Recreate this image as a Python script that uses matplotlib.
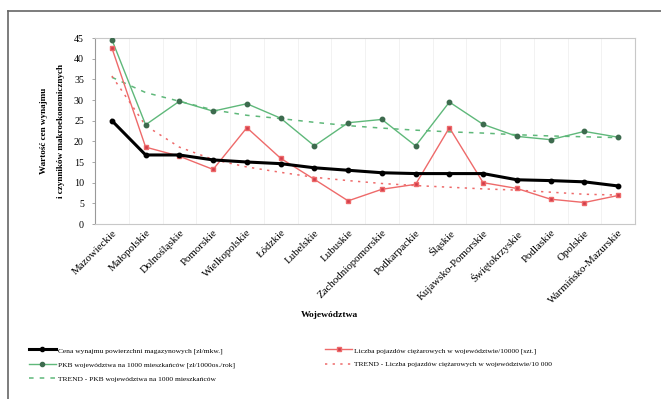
import matplotlib
matplotlib.use("Agg")
import matplotlib.pyplot as plt
from matplotlib.lines import Line2D
import numpy as np

plt.rcParams['font.family'] = ['Liberation Serif', 'DejaVu Serif']

regions = ["Mazowieckie", "Małopolskie", "Dolnośląskie", "Pomorskie", "Wielkopolskie",
           "Łódzkie", "Lubelskie", "Lubuskie", "Zachodniopomorskie", "Podkarpackie",
           "Śląskie", "Kujawsko-Pomorskie", "Świętokrzyskie", "Podlaskie", "Opolskie",
           "Warmińsko-Mazurskie"]

rent_price = [25.0, 16.7, 16.7, 15.5, 15.0, 14.6, 13.6, 13.0, 12.4, 12.2,
              12.2, 12.2, 10.7, 10.5, 10.2, 9.2]
trucks = [42.6, 18.6, 16.4, 13.2, 23.3, 15.9, 10.8, 5.6, 8.4, 9.6,
          23.3, 10.0, 8.6, 6.0, 5.2, 6.9]
gdp = [44.6, 24.0, 29.7, 27.3, 29.1, 25.6, 18.9, 24.5, 25.3, 18.9,
       29.5, 24.1, 21.2, 20.4, 22.4, 21.0]
trucks_trend = [35.8, 23.8, 18.6, 15.6, 13.8, 12.5, 11.3, 10.5, 9.8, 9.3,
                8.9, 8.5, 8.2, 7.7, 7.2, 7.0]
gdp_trend = [35.5, 31.8, 29.7, 27.6, 26.3, 25.5, 24.6, 23.8, 23.2, 22.7,
             22.3, 22.0, 21.6, 21.3, 21.1, 20.9]

legend_labels = [
    "Cena wynajmu powierzchni magazynowych [zł/mkw.]",
    "PKB województwa na 1000 mieszkańców [zł/1000os./rok]",
    "TREND - PKB województwa na 1000 mieszkańców",
    "Liczba pojazdów ciężarowych w województwie/10000 [szt.]",
    "TREND - Liczba pojazdów ciężarowych w województwie/10 000",
]

RED = "#ee6a6a"
GREEN = "#5fb87a"
GREEN_MK = "#3d6b4e"

fig = plt.figure(figsize=(6.61, 3.99), dpi=100)
ax = fig.add_axes([95/661, 1-224/399, 540/661, 186/399])

x = np.arange(len(regions))

ax.plot(x, gdp_trend, color=GREEN, lw=1.1, ls=(0, (3, 4)), zorder=2)
ax.plot(x, trucks_trend, color=RED, lw=1.1, ls=(0, (1.5, 3.5)), zorder=2)
ax.plot(x, gdp, color=GREEN, lw=1.0, marker='o', ms=3.2, mfc=GREEN_MK, mec=GREEN_MK, zorder=3)
ax.plot(x, trucks, color=RED, lw=1.0, marker='s', ms=3.0, mfc="#d03c4c", mec=RED, zorder=3)
ax.plot(x, rent_price, color="black", lw=2.2, marker='o', ms=3.2, zorder=4)

ax.set_xlim(-0.5, len(regions) - 0.5)
ax.set_ylim(0, 45)
ax.set_yticks(np.arange(0, 46, 5))
ax.set_xticks(x)
ax.set_xticklabels(regions, rotation=45, ha='right', rotation_mode='anchor', fontsize=7.8)
ax.tick_params(axis='y', labelsize=7.2, length=2, width=0.6, color="#999999", pad=6)
ax.tick_params(axis='x', length=0, pad=3)

ax.set_xticks(np.arange(-0.5, len(regions), 1), minor=True)
ax.grid(True, which='minor', axis='x', color="#f0f0f0", lw=0.6)
ax.tick_params(axis='x', which='minor', length=0)

for s in ax.spines.values():
    s.set_color("#c8c8c8")
    s.set_linewidth(0.8)
ax.spines['left'].set_color("#999999")

# two-line vertical axis title
fig.text(44/661, 1-131/399, "Wartość cen wynajmu", rotation=90, ha='center',
         va='center', fontsize=6.6, fontweight='bold')
fig.text(61/661, 1-131/399, "i czynników makroekonomicznych", rotation=90,
         ha='center', va='center', fontsize=6.6, fontweight='bold')

fig.text(329/661, 1-315/399, "Województwa", ha='center', va='center',
         fontsize=6.8, fontweight='bold')

handles = [
    Line2D([], [], color="black", lw=2.2, marker='o', ms=3),
    Line2D([], [], color=GREEN, lw=1.0, marker='o', ms=3, mfc=GREEN_MK, mec=GREEN_MK),
    Line2D([], [], color=GREEN, lw=1.1, ls=(0, (3, 4))),
    Line2D([], [], color=RED, lw=1.0, marker='s', ms=3, mfc="#d03c4c", mec=RED),
    Line2D([], [], color=RED, lw=1.1, ls=(0, (1.5, 3.5))),
]
fig.legend(handles, legend_labels, ncol=2, loc='upper left',
           bbox_to_anchor=(22/661, 1-340/399), frameon=False, fontsize=5.4,
           handlelength=3.6, handletextpad=0.3, columnspacing=12.0,
           labelspacing=1.0)

# outer frame
fig.add_artist(Line2D([8/661, 8/661], [0, 1-11/399], color="#666666", lw=1.2,
                      transform=fig.transFigure))
fig.add_artist(Line2D([8/661, 1], [1-11/399, 1-11/399], color="#666666", lw=1.2,
                      transform=fig.transFigure))

fig.savefig("out.png", dpi=100)
